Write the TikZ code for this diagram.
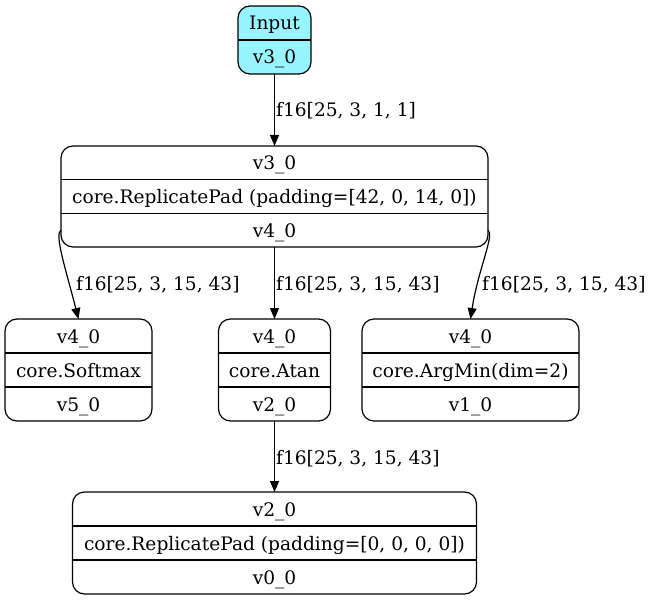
\documentclass[tikz,border=0pt]{standalone}
\usepackage{fontspec}
\setmainfont{DejaVu Serif}
\usetikzlibrary{arrows.meta,calc}
\definecolor{inputfill}{HTML}{98F5FF}
\tikzset{
  box/.style={draw, rounded corners=12pt, line width=1.2pt, inner sep=0pt, outer sep=0pt},
  txt/.style={anchor=base, inner sep=0pt, font=\fontsize{18.6}{20}\selectfont},
  lbl/.style={anchor=base west, inner sep=0pt, font=\fontsize{18.6}{20}\selectfont},
  edge/.style={line width=1.2pt, -{Triangle[length=11pt,width=9pt]}},
  rule/.style={line width=1.2pt},
}
% three-row record box: name, cx, cy, width, height, top, middle, bottom
\newcommand\opbox[8]{%
  \node[box, minimum width=#4pt, minimum height=#5pt] (#1) at (#2,#3) {};
  \draw[rule] ({#2-#4/2},{#3-#5/6}) -- ({#2+#4/2},{#3-#5/6});
  \draw[rule] ({#2-#4/2},{#3+#5/6}) -- ({#2+#4/2},{#3+#5/6});
  \node[txt] (#1-a) at (#2,{#3-#5/3+7}) {#6};
  \node[txt] (#1-b) at (#2,{#3+7}) {#7};
  \node[txt] (#1-c) at (#2,{#3+#5/3+7}) {#8};
}
\begin{document}
\begin{tikzpicture}[x=1pt,y=-1pt]
\useasboundingbox (0,0) rectangle (652,601);

% input record
\node[box, fill=inputfill, minimum width=73pt, minimum height=68pt] (in) at (274.5,40) {};
\draw[rule] (in.west) -- (in.east);
\node[txt] (in-a) at (274.5,30) {Input};
\node[txt] (in-b) at (274.5,64) {v3\_0};

\opbox{pad1}{274.5}{196.5}{427}{101}{v3\_0}{core.ReplicatePad (padding=[42, 0, 14, 0])}{v4\_0}
\opbox{sm}{78.5}{370}{147}{102}{v4\_0}{core.Softmax}{v5\_0}
\opbox{atan}{274.5}{370}{112}{102}{v4\_0}{core.Atan}{v2\_0}
\opbox{amin}{470.5}{370}{217}{102}{v4\_0}{core.ArgMin(dim=2)}{v1\_0}
\opbox{pad2}{274.5}{543}{404}{102}{v2\_0}{core.ReplicatePad (padding=[0, 0, 0, 0])}{v0\_0}

% connectors
\coordinate (p1l) at ($(pad1.west)+(0,33.5)$);
\coordinate (p1r) at ($(pad1.east)+(0,33.5)$);
\draw[edge] (in.south) -- (pad1.north);
\draw[edge] (pad1.south) -- (atan.north);
\draw[edge] (atan.south) -- (pad2.north);
\draw[edge] (p1l) .. controls (54,234) and (66,270) .. (sm.north);
\draw[edge] (p1r) .. controls (495,234) and (478,270) .. (amin.north);

% tensor labels
\node[lbl] (l1) at (276,117) {f16[25, 3, 1, 1]};
\node[lbl] (l2) at (76,290) {f16[25, 3, 15, 43]};
\node[lbl] (l3) at (276,290) {f16[25, 3, 15, 43]};
\node[lbl] (l4) at (482,290) {f16[25, 3, 15, 43]};
\node[lbl] (l5) at (276,464) {f16[25, 3, 15, 43]};
\end{tikzpicture}
\end{document}
